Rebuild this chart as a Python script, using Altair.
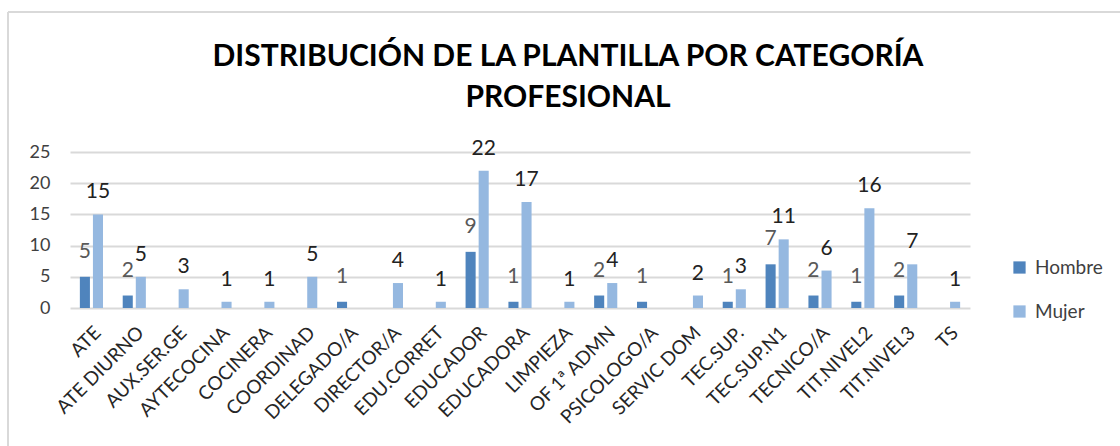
import altair as alt
import pandas as pd

categorias = ["ATE", "ATE DIURNO", "AUX.SER.GE", "AYTECOCINA", "COCINERA", "COORDINAD",
              "DELEGADO/A", "DIRECTOR/A", "EDU.CORRET", "EDUCADOR", "EDUCADORA", "LIMPIEZA",
              "OF 1ª ADMN", "PSICOLOGO/A", "SERVIC DOM", "TEC.SUP.", "TEC.SUP.N1", "TECNICO/A",
              "TIT.NIVEL2", "TIT.NIVEL3", "TS"]
hombre = [5, 2, None, None, None, None, 1, None, None, 9, 1, None, 2, 1, None, 1, 7, 2, 1, 2, None]
mujer = [15, 5, 3, 1, 1, 5, None, 4, 1, 22, 17, 1, 4, None, 2, 3, 11, 6, 16, 7, 1]
series = ["Hombre", "Mujer"]
colores = ["#4f84bd", "#95b8e0"]
y_ticks = [0, 5, 10, 15, 20, 25]
titulo = ["DISTRIBUCIÓN DE LA PLANTILLA POR CATEGORÍA", "PROFESIONAL"]

rows = []
for c, h, m in zip(categorias, hombre, mujer):
    if h is not None:
        rows.append({"cat": c, "sexo": "Hombre", "valor": h})
    if m is not None:
        rows.append({"cat": c, "sexo": "Mujer", "valor": m})
df = pd.DataFrame(rows)
one = pd.DataFrame({"k": [0]})

FONT = "Lato"

x_enc = alt.X("cat:N", sort=categorias, title=None,
              scale=alt.Scale(paddingInner=0.46, paddingOuter=0.23),
              axis=alt.Axis(labelAngle=-45, labelAlign="right", labelBaseline="top",
                            labelFontSize=19, labelColor="#262626", labelFont=FONT,
                            ticks=False, domain=False, labelPadding=15,
                            grid=False, labelOverlap=False))
y_enc = alt.Y("valor:Q", title=None,
              scale=alt.Scale(domain=[0, 25], nice=False),
              axis=alt.Axis(values=y_ticks, labelFontSize=18, labelColor="#404040",
                            labelFont=FONT, ticks=False, domain=False, labelPadding=20,
                            grid=True, gridColor="#d9d9d9", gridWidth=2,
                            labelOverlap=False))
xoff = alt.XOffset("sexo:N", sort=series,
                   scale=alt.Scale(paddingInner=0.23, paddingOuter=0))

bars = alt.Chart(df).mark_bar().encode(
    x=x_enc, y=y_enc, xOffset=xoff,
    color=alt.Color("sexo:N", sort=series,
                    scale=alt.Scale(domain=series, range=colores),
                    legend=alt.Legend(title=None, orient="none", legendX=940, legendY=106,
                                      symbolType="square", symbolSize=150,
                                      symbolStrokeWidth=0, labelFontSize=19,
                                      labelColor="#404040", labelFont=FONT,
                                      rowPadding=24, labelOffset=6))
)

lab_h = alt.Chart(df).transform_filter(alt.datum.sexo == "Hombre").mark_text(
    fontSize=21, font=FONT, color="#595959", baseline="alphabetic", dy=-19
).encode(x=x_enc, y=y_enc, xOffset=xoff, text="valor:Q")

lab_m = alt.Chart(df).transform_filter(alt.datum.sexo == "Mujer").mark_text(
    fontSize=21, font=FONT, color="#222222", baseline="alphabetic", dy=-16
).encode(x=x_enc, y=y_enc, xOffset=xoff, text="valor:Q")

title_mark = alt.Chart(one).mark_text(
    font=FONT, fontSize=30, fontWeight="bold", color="#000000",
    lineHeight=41, baseline="alphabetic", align="center"
).encode(x=alt.value(498), y=alt.value(-86), text=alt.value(titulo))

borde_top = alt.Chart(one).mark_rule(color="#d9d9d9", strokeWidth=2).encode(
    x=alt.value(-62), x2=alt.value(1060), y=alt.value(-140))
borde_left = alt.Chart(one).mark_rule(color="#d9d9d9", strokeWidth=2).encode(
    x=alt.value(-62), y=alt.value(-140), y2=alt.value(300))

chart = alt.layer(bars, lab_h, lab_m, title_mark, borde_top, borde_left).properties(
    width=900, height=156,
    background="white",
    autosize=alt.AutoSizeParams(type="none"),
    padding={"left": 70, "top": 152, "right": 150, "bottom": 138},
).configure_view(strokeWidth=0, stroke="transparent")

chart.save("out.html", embed_options={"renderer": "svg", "actions": False})
